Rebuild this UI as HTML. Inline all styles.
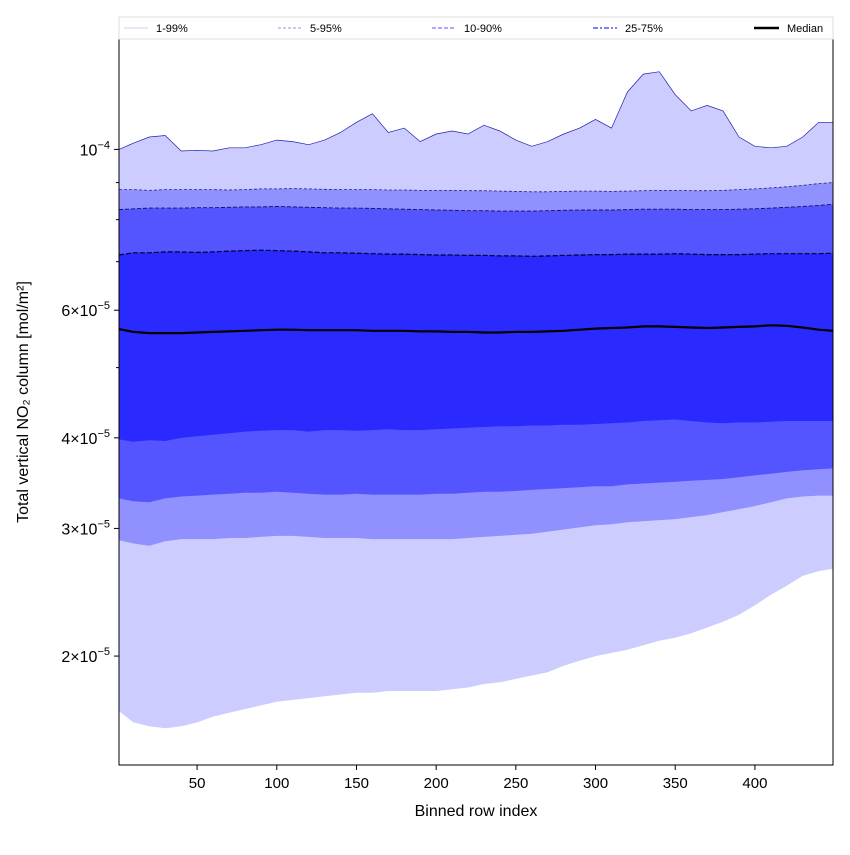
<!DOCTYPE html>
<html><head><meta charset="utf-8"><style>
body{margin:0;background:#fff}
svg text{font-family:"Liberation Sans","DejaVu Sans",sans-serif}
</style></head><body>
<svg id="chart" width="850" height="850" viewBox="0 0 850 850" xmlns="http://www.w3.org/2000/svg">
<rect width="850" height="850" fill="#fff"/>
<g id="bands"></g>
<g id="lines"></g>
<rect x="119" y="39" width="714" height="726" fill="none" stroke="#000" stroke-width="1"/>
<g id="axes"></g>
<text x="476" y="816" font-size="16" text-anchor="middle">Binned row index</text>
<text transform="translate(28,402) rotate(-90)" font-size="16" text-anchor="middle">Total vertical NO₂ column [mol/m²]</text>
<g>
<rect x="119" y="17" width="714" height="22" fill="#fff" stroke="#ddd" stroke-width="1"/>
<g><line x1="124" y1="28" x2="148" y2="28" stroke="#ccccff" stroke-width="1"/><text x="156" y="32" font-size="11">1-99%</text></g>
<g><line x1="278" y1="28" x2="302" y2="28" stroke="#9090ff" stroke-width="1" stroke-dasharray="3,2"/><text x="310" y="32" font-size="11">5-95%</text></g>
<g><line x1="432" y1="28" x2="456" y2="28" stroke="#7777ff" stroke-width="1.2" stroke-dasharray="4,2"/><text x="464" y="32" font-size="11">10-90%</text></g>
<g><line x1="593" y1="28" x2="617" y2="28" stroke="#5555ff" stroke-width="1.6" stroke-dasharray="5,2,2,2"/><text x="625" y="32" font-size="11">25-75%</text></g>
<g><line x1="754" y1="28" x2="779" y2="28" stroke="#000" stroke-width="2.5"/><text x="787" y="32" font-size="11">Median</text></g>
</g>
</svg>
<script>
const idx=[1,10,20,30,40,50,60,70,80,90,100,110,120,130,140,150,160,170,180,190,200,210,220,230,240,250,260,270,280,290,300,310,320,330,340,350,360,370,380,390,400,410,420,430,440,449];
// values in units of 1e-5 mol/m²
const p99=[10.0,10.2,10.4,10.45,9.95,9.97,9.95,10.05,10.05,10.15,10.3,10.25,10.15,10.3,10.55,10.9,11.2,10.55,10.7,10.25,10.5,10.6,10.5,10.8,10.6,10.3,10.1,10.25,10.5,10.7,11.0,10.7,12.0,12.7,12.8,11.9,11.3,11.5,11.3,10.4,10.1,10.05,10.1,10.4,10.9,10.9];
const p95=[8.8,8.8,8.78,8.8,8.8,8.8,8.8,8.79,8.8,8.82,8.82,8.83,8.82,8.81,8.8,8.8,8.8,8.79,8.79,8.78,8.78,8.78,8.77,8.77,8.76,8.75,8.74,8.74,8.75,8.76,8.76,8.75,8.76,8.77,8.78,8.78,8.77,8.77,8.78,8.8,8.82,8.85,8.88,8.92,8.97,9.0];
const p90=[8.26,8.28,8.3,8.3,8.3,8.31,8.31,8.32,8.33,8.33,8.34,8.33,8.32,8.31,8.3,8.3,8.29,8.28,8.27,8.26,8.25,8.24,8.23,8.23,8.22,8.22,8.22,8.23,8.24,8.25,8.25,8.25,8.26,8.27,8.27,8.27,8.26,8.26,8.26,8.27,8.28,8.3,8.32,8.34,8.37,8.4];
const p75=[7.15,7.2,7.2,7.22,7.22,7.21,7.22,7.24,7.25,7.26,7.25,7.24,7.22,7.2,7.2,7.19,7.18,7.17,7.17,7.16,7.15,7.15,7.14,7.14,7.13,7.13,7.12,7.13,7.14,7.15,7.16,7.16,7.17,7.17,7.17,7.18,7.17,7.16,7.16,7.16,7.17,7.18,7.18,7.18,7.18,7.19];
const p50=[5.65,5.6,5.58,5.58,5.58,5.59,5.6,5.61,5.62,5.63,5.64,5.64,5.63,5.63,5.63,5.63,5.62,5.62,5.62,5.61,5.61,5.6,5.6,5.59,5.59,5.6,5.6,5.61,5.62,5.64,5.66,5.67,5.68,5.7,5.7,5.69,5.68,5.67,5.68,5.69,5.7,5.72,5.71,5.68,5.64,5.62];
const p25=[3.98,3.95,3.97,3.96,4.0,4.02,4.04,4.06,4.08,4.09,4.1,4.1,4.08,4.1,4.1,4.09,4.1,4.11,4.1,4.1,4.11,4.12,4.13,4.14,4.15,4.15,4.16,4.16,4.17,4.17,4.18,4.19,4.2,4.22,4.23,4.24,4.22,4.2,4.19,4.2,4.2,4.21,4.22,4.22,4.22,4.22];
const p10=[3.3,3.27,3.26,3.3,3.32,3.33,3.34,3.35,3.36,3.36,3.37,3.36,3.35,3.34,3.34,3.35,3.34,3.34,3.34,3.34,3.35,3.35,3.36,3.37,3.37,3.38,3.39,3.4,3.41,3.42,3.43,3.43,3.45,3.46,3.47,3.48,3.49,3.5,3.51,3.53,3.55,3.57,3.59,3.61,3.62,3.63];
const p5=[2.89,2.86,2.84,2.88,2.9,2.9,2.9,2.91,2.91,2.92,2.93,2.93,2.92,2.91,2.91,2.91,2.9,2.9,2.9,2.9,2.9,2.9,2.91,2.92,2.93,2.94,2.95,2.97,2.99,3.01,3.03,3.04,3.06,3.07,3.08,3.09,3.11,3.13,3.16,3.19,3.22,3.26,3.3,3.32,3.33,3.33];
const p1=[1.68,1.62,1.6,1.59,1.6,1.62,1.65,1.67,1.69,1.71,1.73,1.74,1.75,1.76,1.77,1.78,1.78,1.79,1.79,1.79,1.79,1.8,1.81,1.83,1.84,1.86,1.88,1.9,1.94,1.97,2.0,2.02,2.04,2.07,2.1,2.12,2.15,2.19,2.23,2.28,2.35,2.43,2.5,2.58,2.62,2.64];
const xTicks=[50,100,150,200,250,300,350,400];
const yMajor=[{v:10,label:"10",sup:"−4"},{v:6,label:"6×10",sup:"−5"},{v:4,label:"4×10",sup:"−5"},{v:3,label:"3×10",sup:"−5"},{v:2,label:"2×10",sup:"−5"}];
const yMinor=[5,7,8,9];

const X0=119,X1=833,Y0=39,Y1=765,DX0=1,DX1=449;
const LY0=Math.log10(14.15),LY1=Math.log10(14.2);
const yTop=Math.log10(14.2),yBot=Math.log10(1.415);
function sx(i){return X0+(i-DX0)/(DX1-DX0)*(X1-X0);}
function sy(v){return Y0+(yTop-Math.log10(v))/(yTop-yBot)*(Y1-Y0);}
const NS="http://www.w3.org/2000/svg";
function pts(arr){return arr.map((v,k)=>sx(idx[k]).toFixed(1)+","+sy(v).toFixed(1));}
const bands=document.getElementById("bands"),lines=document.getElementById("lines"),axes=document.getElementById("axes");
function band(lo,hi,col,name){
  const p=document.createElementNS(NS,"polygon");
  p.setAttribute("points",pts(hi).concat(pts(lo).reverse()).join(" "));
  p.setAttribute("fill",col);
  
  
  bands.appendChild(p);
}
band(p1,p99,"#ccccff","band-1-99");
band(p5,p95,"#9090ff","band-5-95");
band(p10,p90,"#5555ff","band-10-90");
band(p25,p75,"#2a2aff","band-25-75");
function line(arr,col,w,dash,name){
  const p=document.createElementNS(NS,"polyline");
  p.setAttribute("points",pts(arr).join(" "));
  p.setAttribute("fill","none");p.setAttribute("stroke",col);p.setAttribute("stroke-width",w);
  if(dash)p.setAttribute("stroke-dasharray",dash);
  
  
  lines.appendChild(p);
}
line(p99,"#2020b0",0.7,null,"line-p99");
line(p95,"#202090",0.8,"3,2","line-p95");
line(p90,"#101060",0.9,"4,2","line-p90");
line(p75,"#000030",1.2,"5,2","line-p75");
line(p50,"#000",2.2,null,"median-line");
xTicks.forEach(t=>{
  const x=sx(t);
  const l=document.createElementNS(NS,"line");
  l.setAttribute("x1",x);l.setAttribute("x2",x);l.setAttribute("y1",765);l.setAttribute("y2",770);l.setAttribute("stroke","#000");
  
  
  axes.appendChild(l);
  const tx=document.createElementNS(NS,"text");
  tx.setAttribute("x",x);tx.setAttribute("y",788);tx.setAttribute("font-size","15");tx.setAttribute("text-anchor","middle");
  tx.textContent=t;
  
  
  axes.appendChild(tx);
});
yMajor.forEach(t=>{
  const y=sy(t.v);
  const l=document.createElementNS(NS,"line");
  l.setAttribute("x1",114);l.setAttribute("x2",119);l.setAttribute("y1",y);l.setAttribute("y2",y);l.setAttribute("stroke","#000");
  
  
  axes.appendChild(l);
  const tx=document.createElementNS(NS,"text");
  tx.setAttribute("x",110);tx.setAttribute("y",y+6);tx.setAttribute("font-size","16");tx.setAttribute("text-anchor","end");
  tx.innerHTML=t.label+'<tspan dy="-7" font-size="11">'+t.sup+'</tspan>';
  
  
  axes.appendChild(tx);
});
yMinor.forEach(v=>{
  const y=sy(v);
  const l=document.createElementNS(NS,"line");
  l.setAttribute("x1",116);l.setAttribute("x2",119);l.setAttribute("y1",y);l.setAttribute("y2",y);l.setAttribute("stroke","#000");
  
  
  axes.appendChild(l);
});
</script>
</body></html>
